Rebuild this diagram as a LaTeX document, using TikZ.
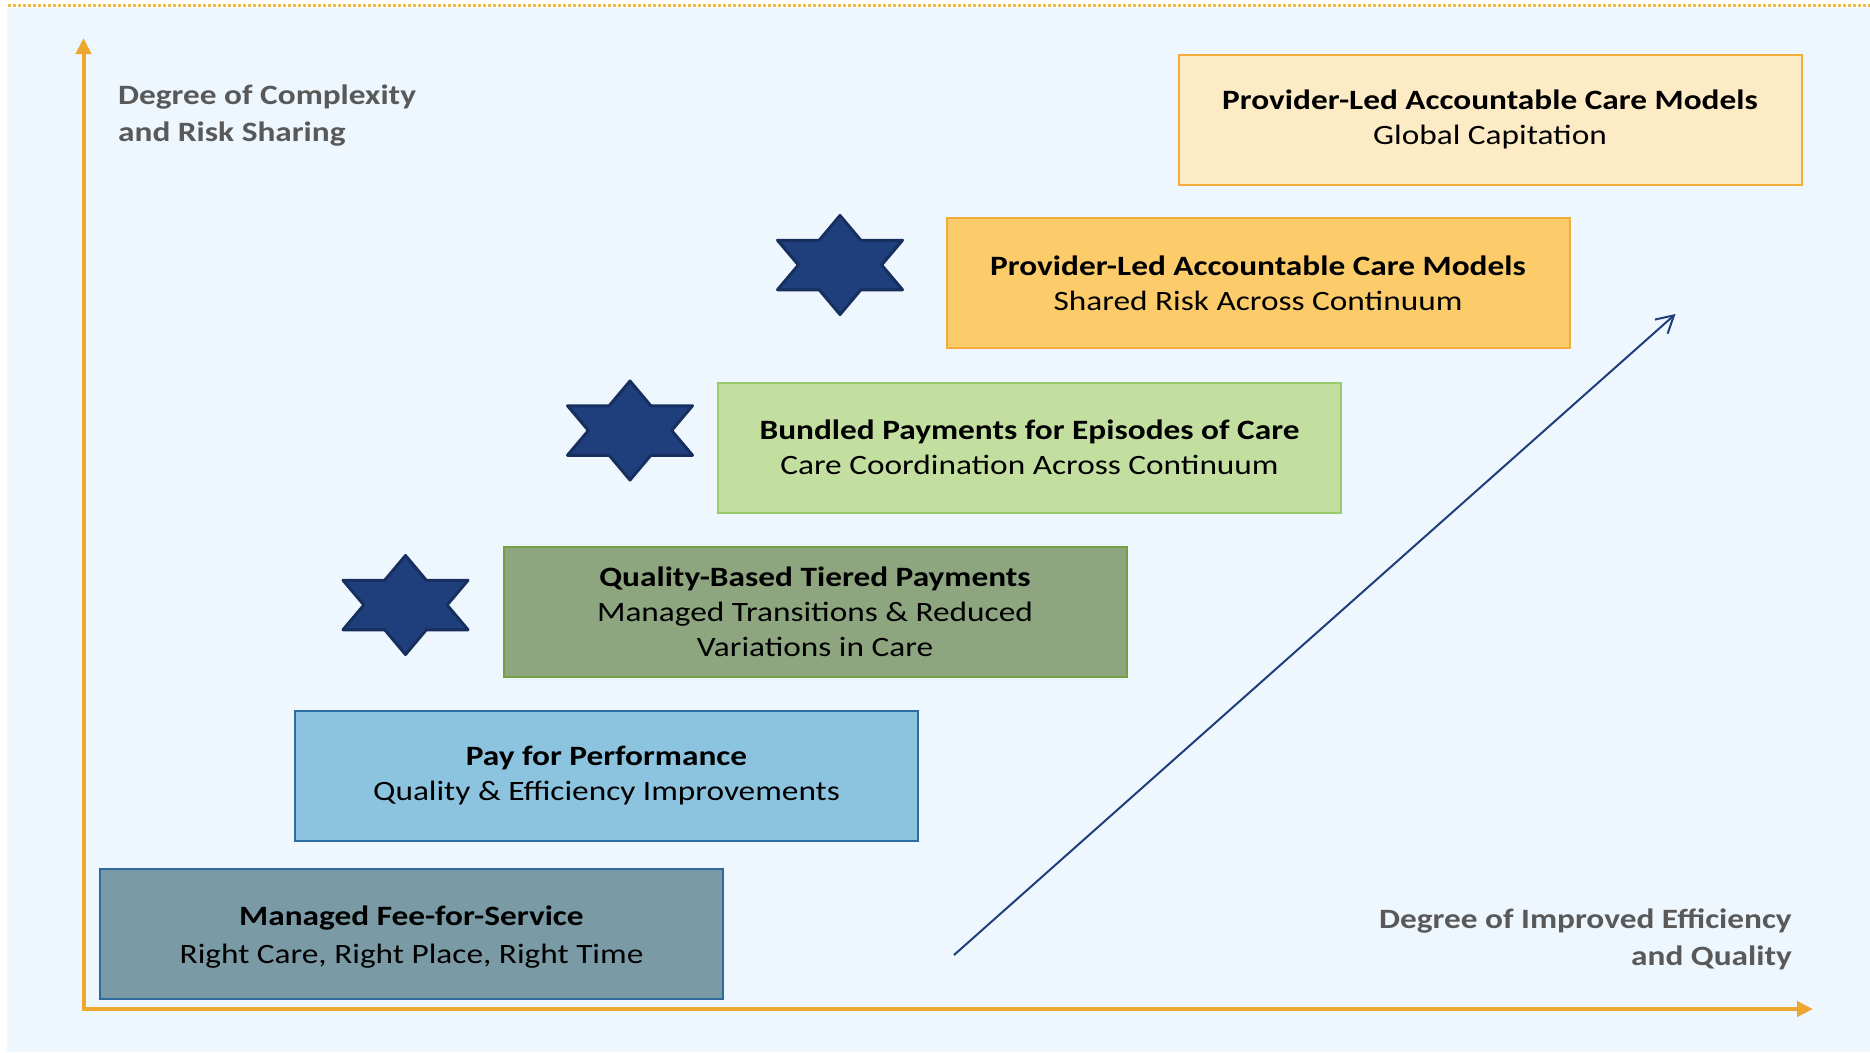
\documentclass[tikz,border=0pt]{standalone}
\usepackage{fontspec}
\setmainfont{Carlito}[FakeStretch=1.19]
\usetikzlibrary{arrows.meta}

\definecolor{pagebg}{HTML}{EEF6FE}
\definecolor{dotorange}{HTML}{F5BA45}
\definecolor{axisorange}{HTML}{EDA72F}
\definecolor{labelgray}{HTML}{595959}
\definecolor{navy}{HTML}{1F3F7C}
\definecolor{navyedge}{HTML}{172F5E}
\definecolor{fillA}{HTML}{7A9AA5}
\definecolor{edgeA}{HTML}{2E6A9E}
\definecolor{fillB}{HTML}{8CC4E0}
\definecolor{edgeB}{HTML}{2E6DA4}
\definecolor{fillC}{HTML}{8EA680}
\definecolor{edgeC}{HTML}{71A047}
\definecolor{fillD}{HTML}{C3DFA0}
\definecolor{edgeD}{HTML}{9BCB6A}
\definecolor{fillE}{HTML}{FCCC6A}
\definecolor{edgeE}{HTML}{F0AD3C}
\definecolor{fillF}{HTML}{FDEBC6}
\definecolor{edgeF}{HTML}{F0AD3C}

\tikzset{
  tiertext/.style={inner sep=0pt, align=center, text=black, font=\fontsize{28}{35}\selectfont},
  tier/.style={tiertext, draw, line width=2pt, minimum width=623pt, minimum height=130pt},
  axislabel/.style={text=labelgray, font=\bfseries\fontsize{28}{37}\selectfont, inner sep=0pt},
  axisline/.style={draw=axisorange, line width=4pt,
    {Triangle[length=16pt,width=15pt]}-{Triangle[length=16pt,width=15pt]}},
  trend/.style={draw=navy, line width=2pt, -{Straight Barb[length=17pt,width=19pt,line width=2pt]}},
  hexstar/.pic={
    \draw[fill=navy, draw=navyedge, line width=3pt, line join=round]
      (0,-49.5) -- (20.8,-24.75) -- (62.5,-24.75) -- (41.6,0) -- (62.5,24.75)
      -- (20.8,24.75) -- (0,49.5) -- (-20.8,24.75) -- (-62.5,24.75) -- (-41.6,0)
      -- (-62.5,-24.75) -- (-20.8,-24.75) -- cycle;
  }
}

\begin{document}
\begin{tikzpicture}[x=1pt,y=-1pt]
\useasboundingbox (0,0) rectangle (1870,1052);
\fill[white] (0,0) rectangle (1870,1052);
\fill[pagebg] (7,8) rectangle (1870,1052);
\draw[dotorange, line width=2.5pt, dash pattern=on 2.5pt off 2.5pt] (8,5.5) -- (1870,5.5);

% axes
\coordinate (ytip) at (83.5,38);
\coordinate (origin) at (83.5,1009);
\coordinate (xtip) at (1813,1009);
\draw[axisline] (ytip) -- (origin) -- (xtip);

\node[axislabel, anchor=west, align=left] (ylab) at (118,115.5)
  {Degree of Complexity\\and Risk Sharing};
\node[axislabel, anchor=east, align=right] (xlab) at (1792,939.5)
  {Degree of Improved Efficiency\\and Quality};

% trend arrow
\coordinate (trendtail) at (954,955);
\coordinate (trendtip) at (1675.5,314);
\draw[trend] (trendtail) -- (trendtip);

% payment model tiers
\node[tier, fill=fillA, draw=edgeA] (tierA) at (411.5,934) {};
\node[tiertext] (tierAtext) at (411.5,937.5)
  {\textbf{Managed Fee-for-Service}\\[3pt]Right Care, Right Place, Right Time};
\node[tier, fill=fillB, draw=edgeB] (tierB) at (606.5,775.5)
  {\textbf{Pay for Performance}\\Quality \& Efficiency Improvements};
\node[tier, fill=fillC, draw=edgeC] (tierC) at (815,612)
  {\textbf{Quality-Based Tiered Payments}\\Managed Transitions \& Reduced\\Variations in Care};
\node[tier, fill=fillD, draw=edgeD] (tierD) at (1029.5,447.5)
  {\textbf{Bundled Payments for Episodes of Care}\\Care Coordination Across Continuum};
\node[tier, fill=fillE, draw=edgeE] (tierE) at (1258,283)
  {\textbf{Provider-Led Accountable Care Models}\\Shared Risk Across Continuum};
\node[tier, fill=fillF, draw=edgeF] (tierF) at (1490,119.5)
  {\textbf{Provider-Led Accountable Care Models}\\Global Capitation};

% stars
\pic at (405.5,605) {hexstar};
\pic at (630,430.5) {hexstar};
\pic at (840,265) {hexstar};
\end{tikzpicture}
\end{document}
